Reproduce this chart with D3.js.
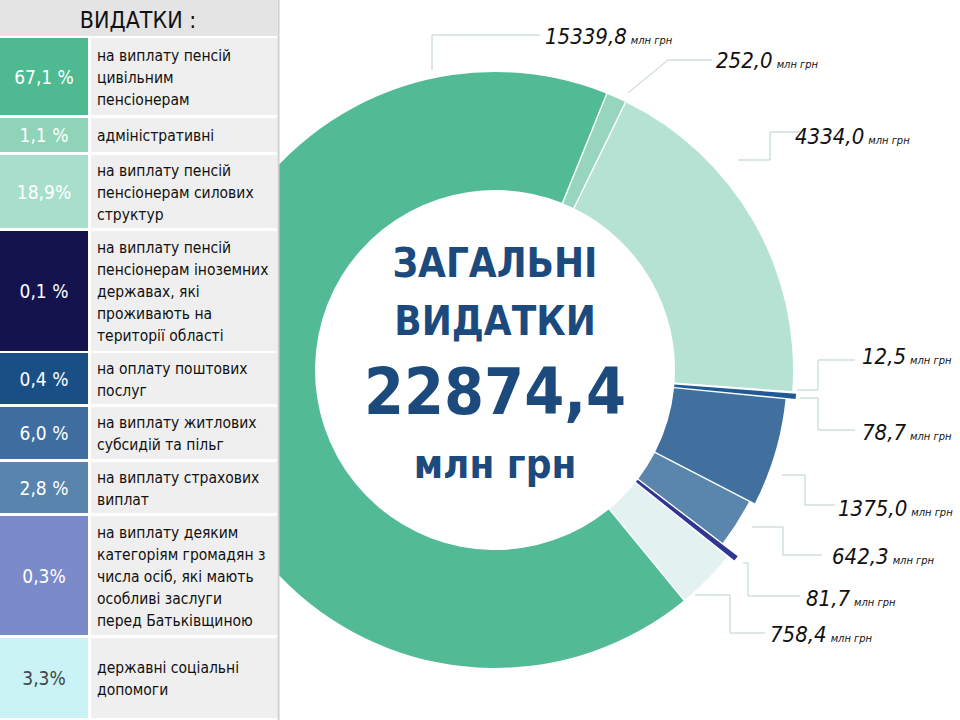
<!DOCTYPE html>
<html><head><meta charset="utf-8">
<script src="https://cdn.jsdelivr.net/npm/d3@7"></script>
<style>body{margin:0;background:#fff}</style>
</head><body>
<svg id="c" width="960" height="720"></svg>
<script>
// data
var values = [15339.8, 252.0, 4334.0, 12.5, 78.7, 1375.0, 642.3, 81.7, 758.4];
var valueLabels = ['15339,8', '252,0', '4334,0', '12,5', '78,7', '1375,0', '642,3', '81,7', '758,4'];
var sliceColors = ['#52bb95', '#97d5be', '#b5e2d3', '#1b4f87', '#1e5b96', '#41709f', '#5a86ae', '#2f3694', '#e3f1f1'];
var tablePct = ['67,1 %', '1,1 %', '18,9%', '0,1 %', '0,4 %', '6,0 %', '2,8 %', '0,3%', '3,3%'];
var tableText = [
  ['на виплату пенсій', 'цивільним', 'пенсіонерам'],
  ['адміністративні'],
  ['на виплату пенсій', 'пенсіонерам силових', 'структур'],
  ['на виплату пенсій', 'пенсіонерам іноземних', 'державах, які', 'проживають на', 'території області'],
  ['на оплату поштових', 'послуг'],
  ['на виплату житлових', 'субсидій та пільг'],
  ['на виплату страхових', 'виплат'],
  ['на виплату деяким', 'категоріям громадян з', 'числа осіб, які мають', 'особливі заслуги', 'перед Батьківщиною'],
  ['державні соціальні', 'допомоги']
];
var tableColors = ['#4fba91', '#8fd3b9', '#a8dfcc', '#14134d', '#1a4f86', '#3f6d9f', '#5884ae', '#7b8ac8', '#c9f3f5'];

// layout
var rowY = [[38,115],[118,152],[155,228],[231,351],[353,404],[407,459],[462,513],[516,635],[638,718]];
var leaders = [
  [[432,70],[432,35],[540,35]],
  [[628,93],[668,60],[712,60]],
  [[738,160],[770,160],[770,132],[800,132]],
  [[797,390],[818,390],[818,360],[855,360]],
  [[800,398],[818,398],[818,430],[855,430]],
  [[782,475],[805,475],[805,505],[835,505]],
  [[752,527],[783,527],[783,555],[822,555]],
  [[743,563],[748,563],[748,596],[800,596]],
  [[695,595],[730,595],[730,633],[765,633]]
];
var labelAt = [[545,44],[716,68],[795,144],[862,364],[862,440],[838,516],[832,564],[806,606],[770,642]];

var font = 'DejaVu Sans Condensed, Liberation Sans Narrow, sans-serif';
var svg = d3.select('#c');
var cx = 495, cy = 370;
var g = svg.append('g').attr('transform', 'translate(' + cx + ',' + cy + ')');

var pie = d3.pie().sort(null)
  .startAngle(-219.4 * Math.PI / 180)
  .endAngle(140.6 * Math.PI / 180);
var arcs = pie(values);
var extra = [0, 0, 0, 6, 4, -6, -12, 8, 0];
g.selectAll('path').data(arcs).enter().append('path')
  .attr('d', function(d, i) {
    return d3.arc().innerRadius(180).outerRadius(298 + extra[i]).padAngle(0.004)(d);
  })
  .attr('fill', function(d, i) { return sliceColors[i]; });

// leader lines and labels
var line = d3.line();
svg.selectAll('.ld').data(leaders).enter().append('path')
  .attr('d', line).attr('fill', 'none').attr('stroke', '#b9cfd0').attr('stroke-width', 1);
var lab = svg.selectAll('.lb').data(valueLabels).enter().append('text')
  .attr('x', function(d, i) { return labelAt[i][0]; })
  .attr('y', function(d, i) { return labelAt[i][1]; })
  .attr('font-family', font)
  .attr('font-style', 'italic').attr('fill', '#111');
lab.append('tspan').attr('font-size', 22).text(function(d) { return d; });
lab.append('tspan').attr('font-size', 11).attr('dx', 4).text('млн грн');

// centre
var ct = [['ЗАГАЛЬНІ', 277, 40], ['ВИДАТКИ', 335, 40], ['22874,4', 414, 64], ['млн грн', 478, 40]];
svg.selectAll('.ct').data(ct).enter().append('text')
  .attr('x', cx).attr('y', function(d) { return d[1]; })
  .attr('text-anchor', 'middle').attr('font-weight', 'bold')
  .attr('font-family', font)
  .attr('font-size', function(d) { return d[2]; })
  .attr('fill', '#1d4a7c').text(function(d) { return d[0]; });

// table
var tb = svg.append('g');
tb.append('rect').attr('x', 0).attr('y', 0).attr('width', 279).attr('height', 720).attr('fill', '#fff');
tb.append('rect').attr('x', 0).attr('y', 0).attr('width', 277).attr('height', 36).attr('fill', '#e4e4e4');
tb.append('text').attr('x', 138).attr('y', 28).attr('text-anchor', 'middle')
  .attr('font-family', font).attr('font-size', 23).attr('fill', '#111')
  .text('ВИДАТКИ :');
var rows = tb.selectAll('.row').data(tablePct).enter().append('g');
rows.append('rect').attr('x', 0).attr('width', 88)
  .attr('y', function(d, i) { return rowY[i][0]; })
  .attr('height', function(d, i) { return rowY[i][1] - rowY[i][0]; })
  .attr('fill', function(d, i) { return tableColors[i]; });
rows.append('rect').attr('x', 91).attr('width', 186)
  .attr('y', function(d, i) { return rowY[i][0]; })
  .attr('height', function(d, i) { return rowY[i][1] - rowY[i][0]; })
  .attr('fill', '#efefef');
rows.append('text').attr('x', 44).attr('text-anchor', 'middle')
  .attr('y', function(d, i) { return (rowY[i][0] + rowY[i][1]) / 2 + 7; })
  .attr('font-family', font).attr('font-size', 19)
  .attr('fill', function(d, i) { return i === 8 ? '#444' : '#fff'; })
  .text(function(d) { return d; });
rows.each(function(d, i) {
  var lines = tableText[i];
  var mid = (rowY[i][0] + rowY[i][1]) / 2;
  var y0 = mid - (lines.length - 1) * 11 + 6;
  d3.select(this).selectAll('.tl').data(lines).enter().append('text')
    .attr('x', 97).attr('y', function(t, k) { return y0 + k * 22; })
    .attr('font-family', font).attr('font-size', 15.5)
    .attr('fill', '#111').text(function(t) { return t; });
});
tb.append('line').attr('x1', 278.5).attr('x2', 278.5).attr('y1', 0).attr('y2', 720)
  .attr('stroke', '#cfcfcf').attr('stroke-width', 2);
</script>
</body></html>
